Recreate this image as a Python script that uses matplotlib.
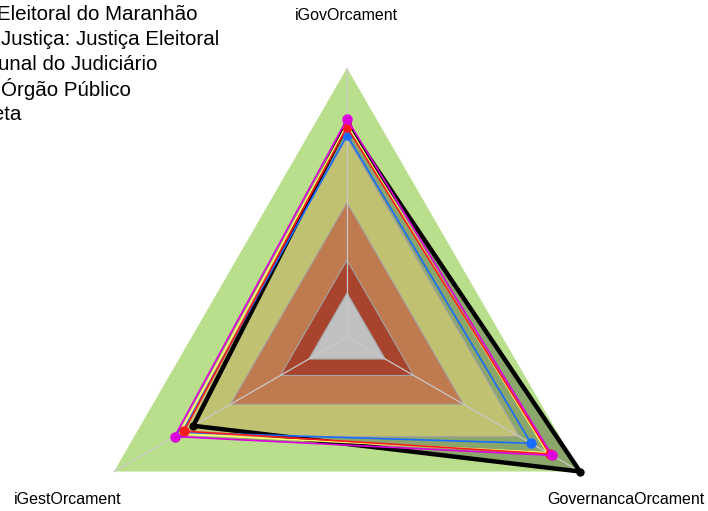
import numpy as np
import matplotlib
matplotlib.use('Agg')
import matplotlib.pyplot as plt
from matplotlib.patches import Polygon

plt.rcParams['font.family'] = ['Liberation Sans', 'DejaVu Sans']

# radar axes (clockwise from top)
axis_labels = ['iGovOrcament', 'GovernancaOrcament', 'iGestOrcament']

# background bands (outer radius, colour)
band_limits = [1.0, 0.74, 0.5, 0.286, 0.164]
band_colors = ['#b9df8c', '#c1c172', '#c07a50', '#a8432d', '#c0c0c0']

# series (drawn in this order; Meta first so the others sit on top)
series_names = ['Meta',
                'Órgão Público',
                'Tribunal do Judiciário',
                'Segmento de Justiça: Justiça Eleitoral',
                'Tribunal Regional Eleitoral do Maranhão']
meta = [0.79, 1.00, 0.66]
orgao = [0.75, 0.79, 0.71]
tribunal = [0.79, 0.86, 0.72]
segmento = [0.78, 0.87, 0.70]
tre_ma = [0.81, 0.88, 0.74]
series_values = [meta, orgao, tribunal, segmento, tre_ma]
series_colors = ['#000000', '#1a6cff', '#ffff70', '#ff1a1a', '#dd00dd']
series_markers = [True, True, False, True, True]

legend_lines = ['Eleitoral do Maranhão', 'Justiça: Justiça Eleitoral',
                'unal do Judiciário', 'Órgão Público', 'Meta']

W, H = 708, 511
cx, cy, R = 347, 337, 269

fig = plt.figure(figsize=(W / 100, H / 100), dpi=100)
ax = fig.add_axes([0, 0, 1, 1])
ax.set_xlim(-cx / R, (W - cx) / R)
ax.set_ylim(-(H - cy) / R, cy / R)
ax.axis('off')

angles = np.deg2rad([90, -30, 210])


def to_xy(vals):
    vals = np.asarray(vals, dtype=float)
    return np.column_stack([np.cos(angles) * vals, np.sin(angles) * vals])


# outer green band
ax.add_patch(Polygon(to_xy([band_limits[0]] * 3), closed=True,
                     fc=band_colors[0], ec='none', zorder=1))

# darkened area covered by the series
for vals in series_values:
    ax.add_patch(Polygon(to_xy(vals), closed=True, fc='#8ba66b',
                         ec='none', zorder=2))

# inner bands
for r, col in zip(band_limits[1:], band_colors[1:]):
    ax.add_patch(Polygon(to_xy([r] * 3), closed=True, fc=col,
                         ec='#a4a4a4', lw=0.8, zorder=3))

# spokes
for a in angles:
    ax.plot([0, np.cos(a)], [0, np.sin(a)], color='#c8c8c8', lw=0.9, zorder=4)

# series lines and points
for i, (vals, col, mk) in enumerate(zip(series_values, series_colors, series_markers)):
    pts = to_xy(vals)
    closed = np.vstack([pts, pts[:1]])
    lw = 3.2 if col == '#000000' else 1.2
    ms = 6 if col == '#000000' else 7.5
    ax.plot(closed[:, 0], closed[:, 1], color=col, lw=lw, zorder=5 + i)
    if mk:
        ax.plot(pts[:, 0], pts[:, 1], 'o', color=col, ms=ms, mec='none', zorder=5 + i)

# axis labels
fig.text(346 / W, 1 - 15 / H, axis_labels[0], ha='center', va='center', fontsize=11.5)
fig.text(626 / W, 1 - 499 / H, axis_labels[1], ha='center', va='center', fontsize=11.5)
fig.text(68 / W, 1 - 499 / H, axis_labels[2], ha='center', va='center', fontsize=11.5)

# legend text (clipped at left edge, as in the original)
legend_x = [-3, 1, -2, 1, -24]
for i, (txt, x0) in enumerate(zip(legend_lines, legend_x)):
    fig.text(x0 / W, 1 - (14 + 25 * i) / H, txt, ha='left', va='center', fontsize=14.8)

fig.savefig('out.png', dpi=100)
